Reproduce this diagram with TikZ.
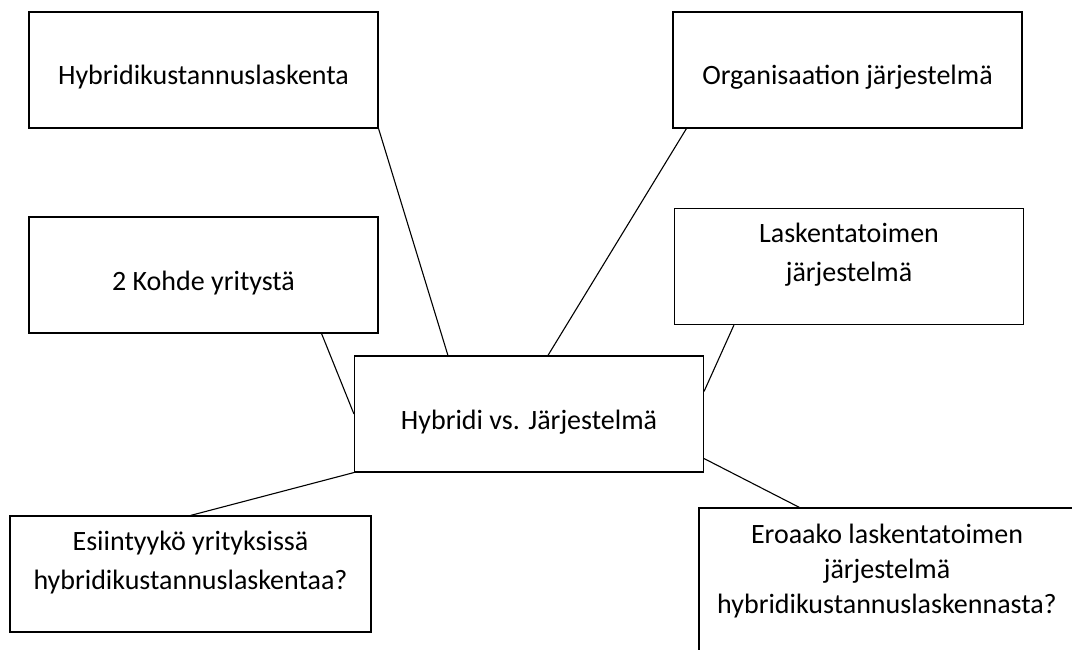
\documentclass[tikz,border=0pt]{standalone}
\usepackage{fontspec}
\setmainfont{Carlito}
\usetikzlibrary{calc, positioning}
\def\bw{349pt}
\def\bh{116pt}
\tikzset{
    box/.style = {
        draw, rectangle, line width=1.1pt, inner sep=0pt, align=center,
        minimum width=\bw, minimum height=\bh,
        text height=30pt, text depth=0pt,
        font=\fontsize{28}{39}\selectfont
    },
    link/.style = {line width=1.1pt},
}
\begin{document}
\begin{tikzpicture}[x=1pt, y=-1pt]
        \clip (0,0) rectangle (1072,650);
        % Place the boxes
        \node [box] (hub) at (529,414) {Hybridi vs. Järjestelmä};
        \node [box] (hybrid) at (203.5,70) {Hybridikustannuslaskenta};
        \node [box] (org) at (847.5,70) {Organisaation järjestelmä};
        \node [box] (firms) at (203.5,275) {2 Kohde yritystä};
        \node [box] (acct) at (849,266.5) {Laskentatoimen\\järjestelmä};
        \node [box, minimum width=361pt] (occur) at (190.5,574) {Esiintyykö yrityksissä\\hybridikustannuslaskentaa?};
        \node [box, minimum width=376pt, minimum height=180pt, font=\fontsize{28}{35}\selectfont] (differ) at (887,598)
            {Eroaako laskentatoimen\\järjestelmä\\hybridikustannuslaskennasta?};

        % Draw connections
        \draw[link] (hybrid.south east) -- ($(hub.north west)+(94,0)$);
        \draw[link] ($(org.south west)+(14,0)$) -- ($(hub.north west)+(194,0)$);
        \draw[link] ($(firms.south east)+(-57,0)$) -- (hub.west);
        \draw[link] ($(acct.south west)+(60,0)$) -- ($(hub.north east)+(0,36)$);
        \draw[link] (occur.north) -- (hub.south west);
        \draw[link] ($(hub.south east)+(0,-14)$) -- ($(differ.north west)+(101,0)$);
\end{tikzpicture}
\end{document}
